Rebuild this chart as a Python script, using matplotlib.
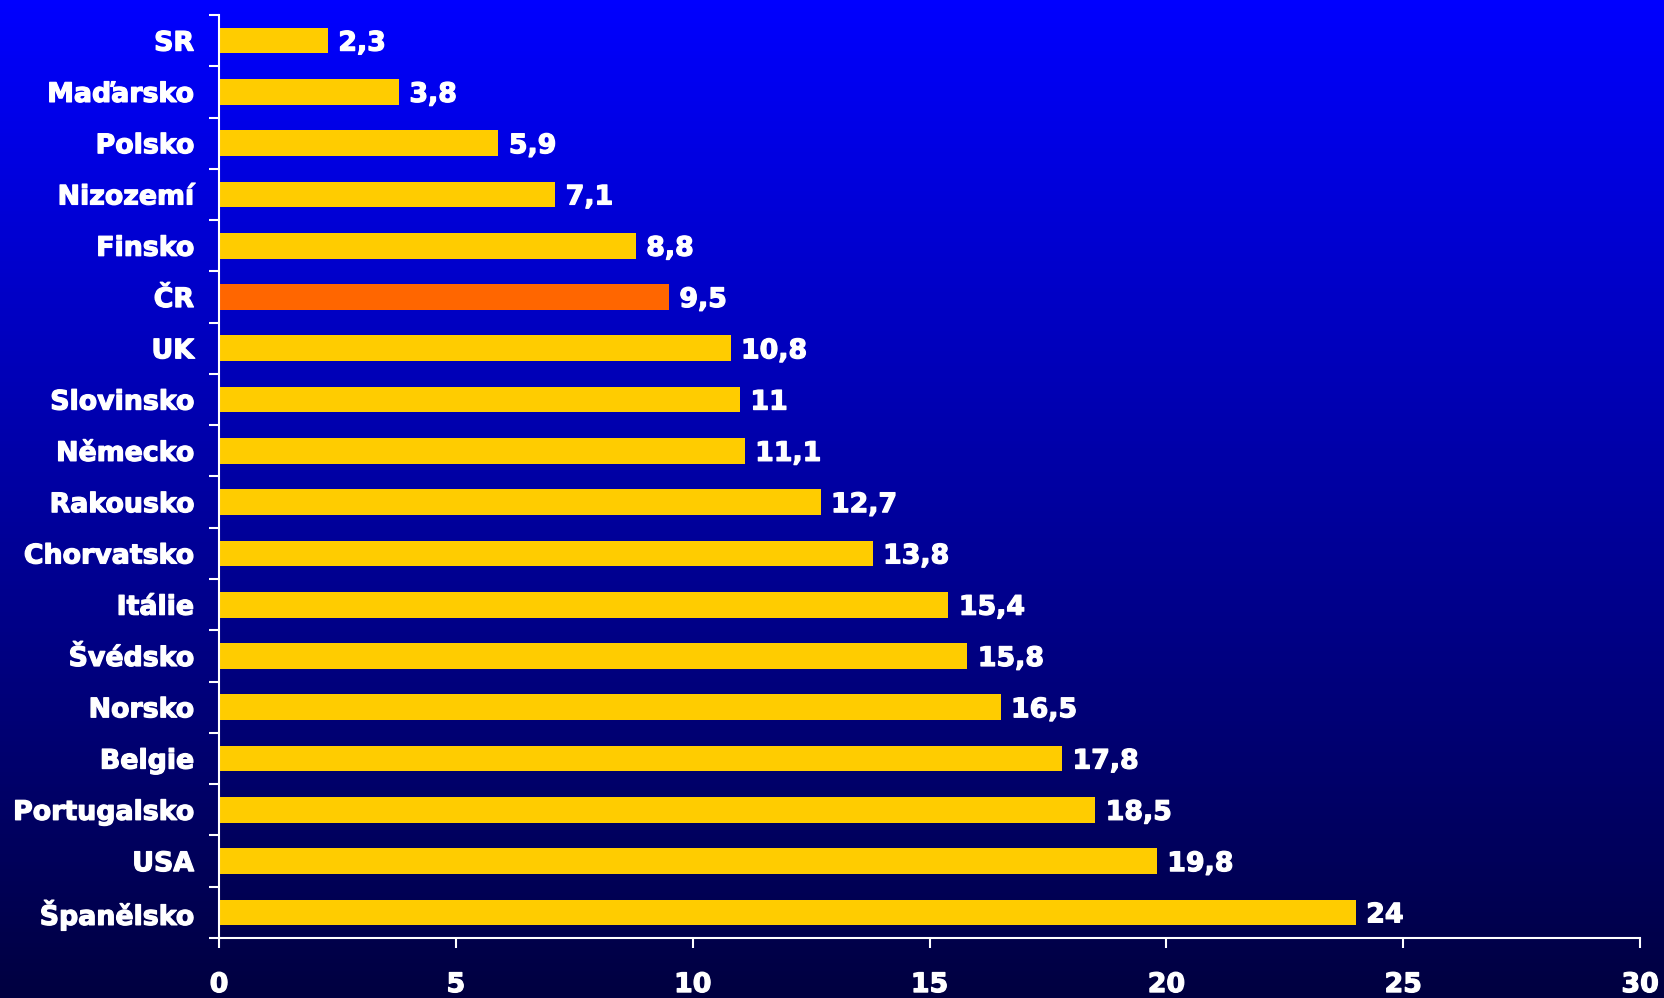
import numpy as np
import matplotlib
matplotlib.use("Agg")
import matplotlib.pyplot as plt
import matplotlib.patheffects as pe
from matplotlib.colors import LinearSegmentedColormap

countries = ["SR", "Maďarsko", "Polsko", "Nizozemí", "Finsko", "ČR", "UK",
             "Slovinsko", "Německo", "Rakousko", "Chorvatsko", "Itálie",
             "Švédsko", "Norsko", "Belgie", "Portugalsko", "USA", "Španělsko"]
values = [2.3, 3.8, 5.9, 7.1, 8.8, 9.5, 10.8, 11, 11.1, 12.7, 13.8, 15.4,
          15.8, 16.5, 17.8, 18.5, 19.8, 24]
highlight = "ČR"
x_ticks = [0, 5, 10, 15, 20, 25, 30]

plt.rcParams["font.family"] = ["DejaVu Sans"]
plt.rcParams["font.weight"] = "bold"
FS = 19.3
# slightly heavier strokes to get closer to the original's very bold face
heavy = [pe.withStroke(linewidth=0.9, foreground="white")]

fig = plt.figure(figsize=(16.64, 9.98), dpi=100)

# gradient background, bright blue at top to dark navy at bottom
bg = fig.add_axes([0, 0, 1, 1], zorder=-1)
cmap = LinearSegmentedColormap.from_list("bg", ["#000040", "#0000ff"])
grad = np.linspace(0, 1, 256).reshape(-1, 1)
bg.imshow(grad, aspect="auto", cmap=cmap, origin="lower", extent=[0, 1, 0, 1])
bg.axis("off")

ax = fig.add_axes([0.1316, 0.0601, 0.8540, 0.9249])
ax.patch.set_alpha(0)

y = np.arange(len(countries))
colors = ["#ff6600" if c == highlight else "#ffcc00" for c in countries]
ax.barh(y, values, height=0.5, color=colors, zorder=2)

for yi, v in zip(y, values):
    txt = f"{v:g}".replace(".", ",")
    ax.annotate(txt, (v, yi), xytext=(7.5, 0), textcoords="offset points",
                va="center_baseline", ha="left", color="white", fontsize=FS,
                fontweight="bold", path_effects=heavy)

ax.set_xlim(0, 30)
ax.set_ylim(len(countries) - 0.5, -0.5)

ax.set_yticks(y)
ax.set_yticklabels(countries)
ax.set_yticks(np.arange(len(countries) + 1) - 0.5, minor=True)
ax.tick_params(axis="y", which="major", length=0, pad=18, labelsize=FS,
               labelcolor="white")
ax.tick_params(axis="y", which="minor", length=7, width=1.5, color="white",
               direction="out")

ax.set_xticks(x_ticks)
ax.tick_params(axis="x", which="major", length=7.5, width=1.5, color="white",
               direction="out", pad=17, labelsize=FS, labelcolor="white")
for lbl in ax.get_xticklabels() + ax.get_yticklabels():
    lbl.set_fontweight("bold")
    lbl.set_path_effects(heavy)

for side in ["top", "right"]:
    ax.spines[side].set_visible(False)
for side in ["left", "bottom"]:
    ax.spines[side].set_color("white")
    ax.spines[side].set_linewidth(1.5)

fig.savefig("out.png", dpi=100)
